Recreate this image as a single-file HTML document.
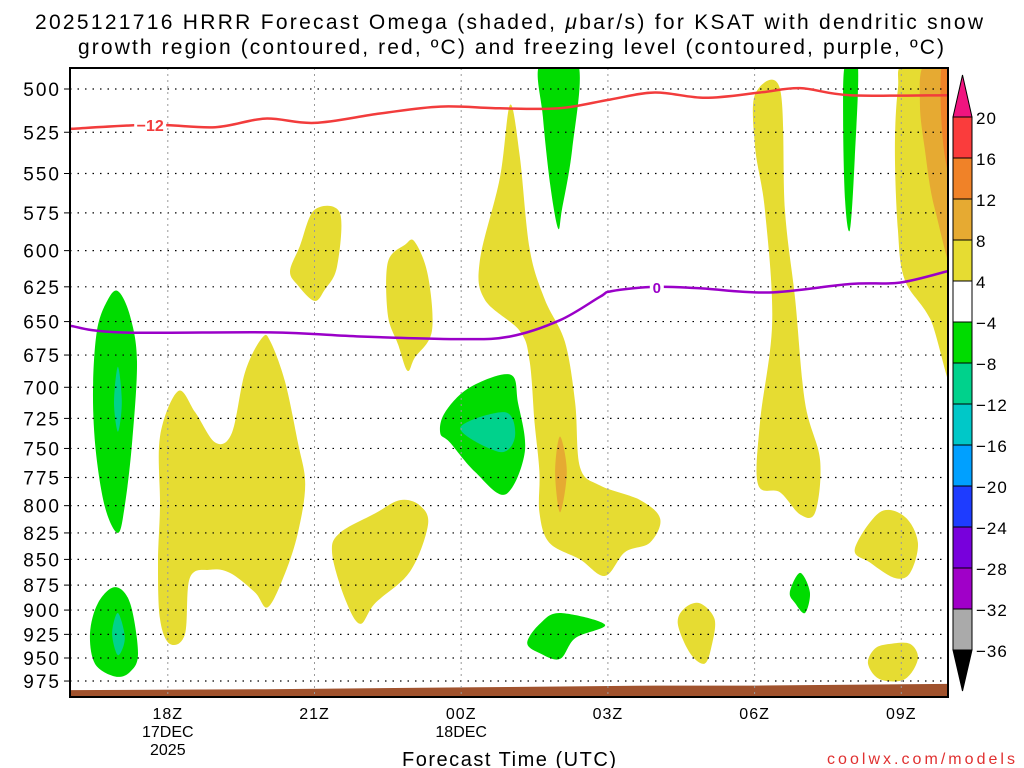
<!DOCTYPE html>
<html><head><meta charset="utf-8"><style>
html,body{margin:0;padding:0;background:#fff;}
svg{display:block;font-family:"Liberation Sans","DejaVu Sans",sans-serif;}
</style></head><body>
<svg id="chart" width="1024" height="768" viewBox="0 0 1024 768" xmlns="http://www.w3.org/2000/svg">
<text x="509" y="29" font-size="21" text-anchor="middle" fill="#000" textLength="948" lengthAdjust="spacing">2025121716 HRRR Forecast Omega (shaded, <tspan font-style="italic">μ</tspan>bar/s) for KSAT with dendritic snow</text>
<text x="511" y="54" font-size="21" text-anchor="middle" fill="#000" textLength="866" lengthAdjust="spacing">growth region (contoured, red, ºC) and freezing level (contoured, purple, ºC)</text>
<g id="plot"></g>
<g id="cbar"></g>
<text x="509" y="766" font-size="20" text-anchor="middle" fill="#000" textLength="214" lengthAdjust="spacing">Forecast Time (UTC)</text>
<text x="1015" y="764" font-size="16" text-anchor="end" fill="#e03030" textLength="188" lengthAdjust="spacing">coolwx.com/models</text>
</svg>
<script>
const pressureTicks=[500,525,550,575,600,625,650,675,700,725,750,775,800,825,850,875,900,925,950,975];
const timeTicks=[18,21,24,27,30,33];
const timeLabels=["18Z","21Z","00Z","03Z","06Z","09Z"];
const redHours=[16,17.64,18.97,19.99,21.0,22.34,23.57,24.79,26.0,27.04,27.96,28.99,30.11,30.93,31.95,33.95];
const redPress=[523,520.6,522,517,519.5,514,510,511,511,506,502,505,502,499.5,503.5,503.5];
const purpleHours=[16,17.02,20.09,21.93,23.98,25.0,26.02,26.84,27.08,27.96,28.88,30.3,31.95,32.97,33.95];
const purplePress=[653,658,658,661,663,661,649,632,628,625,626,629,623,622,614];
const sfcHours=[16,20,24,28,30,34];
const sfcPress=[985,984,982,980,980,978];
const cbLevels=[20,16,12,8,4,-4,-8,-12,-16,-20,-24,-28,-32,-36];
const cbColors=["#fa3c3c","#f08228","#e6aa32","#e6dc32","#ffffff","#00dc00","#00d28c","#00c8c8","#00a0ff","#1e3cff","#7800dc","#a000c8","#aaaaaa"];
const omegaShapes=[
 {c:"#00dc00",n:"green-left",pts:[[16.98,628],[17.23,646],[17.37,680],[17.27,745],[17.12,800],[16.98,825],[16.72,802],[16.53,753],[16.47,703],[16.55,657],[16.76,635]]},
 {c:"#00d28c",n:"teal-left",pts:[[16.98,684],[17.06,712],[16.98,736],[16.90,712]]},
 {c:"#00dc00",n:"green-bottom-left",pts:[[16.92,877],[17.23,893],[17.39,945],[17.23,965],[16.92,970],[16.51,956],[16.41,924],[16.57,893]]},
 {c:"#00d28c",n:"teal-bottom-left",pts:[[16.98,903],[17.12,929],[16.98,947],[16.86,924]]},
 {c:"#e6dc32",n:"yellow-left-big",pts:[[18.21,703],[18.56,720],[18.97,745],[19.31,737],[19.58,688],[19.93,662],[20.1,665],[20.40,696],[20.66,745],[20.81,781],[20.66,825],[20.40,863],[20.05,897],[19.78,882],[19.27,863],[18.86,860],[18.45,868],[18.35,925],[18.04,935],[17.84,909],[17.80,853],[17.84,800],[17.84,740]]},
 {c:"#e6dc32",n:"yellow-21z-small",pts:[[21.0,573],[21.52,575],[21.46,611],[21.21,627],[21.0,635],[20.66,624],[20.5,614],[20.7,597]]},
 {c:"#e6dc32",n:"yellow-23z",pts:[[22.85,596],[23.05,594],[23.32,617],[23.4,657],[23.05,677],[22.9,687],[22.71,667],[22.5,645],[22.5,608]]},
 {c:"#e6dc32",n:"yellow-22z-lower",pts:[[23.16,800],[23.32,818],[22.95,862],[22.24,893],[21.93,914],[21.62,888],[21.36,844],[21.52,825],[22.24,807],[22.75,795]]},
 {c:"#00dc00",n:"green-00z",pts:[[25.0,690],[25.16,712],[25.3,753],[24.9,790],[24.28,770],[23.77,745],[23.57,737],[23.67,720],[24.18,700]]},
 {c:"#00d28c",n:"teal-00z",pts:[[23.98,733],[24.9,720],[25.1,740],[24.79,753]]},
 {c:"#e6dc32",n:"yellow-central",pts:[[25.0,509],[24.79,553],[24.38,607],[24.48,634],[25.2,657],[25.4,680],[25.5,728],[25.6,770],[25.6,806],[25.8,834],[26.43,850],[26.94,866],[27.35,843],[27.86,834],[28.07,812],[27.66,795],[26.84,782],[26.43,766],[26.33,712],[26.12,665],[25.71,634],[25.4,599],[25.2,540]]},
 {c:"#e6aa32",n:"gold-spike",pts:[[26.02,740],[26.16,770],[26.02,806],[25.92,770]]},
 {c:"#00dc00",n:"green-02z-top",pts:[[25.61,486],[26.39,486],[26.27,535],[26.06,573],[25.98,585],[25.82,557],[25.67,516]]},
 {c:"#00dc00",n:"green-02z-bottom",pts:[[26.02,903],[26.94,915],[26.33,929],[26.02,951],[25.61,945],[25.35,934],[25.61,914]]},
 {c:"#e6dc32",n:"yellow-05z",pts:[[28.88,893],[29.18,909],[29.13,935],[28.98,956],[28.68,945],[28.43,914],[28.57,898]]},
 {c:"#e6dc32",n:"yellow-06z-tall",pts:[[30.01,503],[30.52,500],[30.62,573],[30.83,634],[31.03,712],[31.34,760],[31.24,806],[30.93,808],[30.52,788],[30.07,781],[30.11,728],[30.36,650],[30.21,573],[30.01,534]]},
 {c:"#00dc00",n:"green-07z",pts:[[30.93,863],[31.13,882],[31.03,903],[30.83,893],[30.72,882]]},
 {c:"#00dc00",n:"green-08z",pts:[[31.85,486],[32.11,486],[32.05,540],[31.95,586],[31.85,567],[31.81,516]]},
 {c:"#e6dc32",n:"yellow-09z-mid",pts:[[32.56,806],[33.07,810],[33.34,834],[33.18,863],[32.87,868],[32.36,853],[32.05,840]]},
 {c:"#e6dc32",n:"yellow-09z-bottom",pts:[[32.77,935],[33.18,935],[33.34,951],[33.07,973],[32.56,973],[32.32,956],[32.46,940]]},
 {c:"#e6dc32",n:"yellow-right",pts:[[33.07,486],[34.2,486],[34.2,700],[33.59,648],[33.07,620],[32.93,586],[32.87,535],[32.93,500]]},
 {c:"#e6aa32",n:"gold-right",pts:[[33.48,486],[34.2,486],[34.2,620],[33.69,573],[33.48,535],[33.38,508]]},
 {c:"#f08228",n:"orange-right",pts:[[33.83,486],[34.2,486],[34.2,570],[33.87,535]]}
];
const NS="http://www.w3.org/2000/svg";
const L=70,R=948,T=68,B=697;
function X(h){return L+(h-16)*48.9;}
function Y(p){return 89+886.5*Math.log(p/500);}
function mk(tag,attrs,parent){const e=document.createElementNS(NS,tag);for(const k in attrs)e.setAttribute(k,attrs[k]);parent.appendChild(e);return e;}
function smoothClosed(pts){
 const n=pts.length;let d="M"+pts[0][0].toFixed(1)+","+pts[0][1].toFixed(1);
 for(let i=0;i<n;i++){const p0=pts[(i-1+n)%n],p1=pts[i],p2=pts[(i+1)%n],p3=pts[(i+2)%n];
  const c1=[p1[0]+(p2[0]-p0[0])/6,p1[1]+(p2[1]-p0[1])/6],c2=[p2[0]-(p3[0]-p1[0])/6,p2[1]-(p3[1]-p1[1])/6];
  d+="C"+c1[0].toFixed(1)+","+c1[1].toFixed(1)+" "+c2[0].toFixed(1)+","+c2[1].toFixed(1)+" "+p2[0].toFixed(1)+","+p2[1].toFixed(1);}
 return d+"Z";}
function smoothOpen(pts){
 let d="M"+pts[0][0].toFixed(1)+","+pts[0][1].toFixed(1);const n=pts.length;
 for(let i=0;i<n-1;i++){const p0=pts[Math.max(i-1,0)],p1=pts[i],p2=pts[i+1],p3=pts[Math.min(i+2,n-1)];
  const c1=[p1[0]+(p2[0]-p0[0])/6,p1[1]+(p2[1]-p0[1])/6],c2=[p2[0]-(p3[0]-p1[0])/6,p2[1]-(p3[1]-p1[1])/6];
  d+="C"+c1[0].toFixed(1)+","+c1[1].toFixed(1)+" "+c2[0].toFixed(1)+","+c2[1].toFixed(1)+" "+p2[0].toFixed(1)+","+p2[1].toFixed(1);}
 return d;}
const svg=document.getElementById('chart');
const plot=document.getElementById('plot');
const defs=mk('defs',{},svg);
const cp=mk('clipPath',{id:'clip'},defs);
mk('rect',{x:L,y:T,width:R-L,height:B-T},cp);
const inner=mk('g',{'clip-path':'url(#clip)'},plot);
omegaShapes.forEach(s=>{
 const el=mk('path',{d:smoothClosed(s.pts.map(p=>[X(p[0]),Y(p[1])])),fill:s.c},inner);
 
 
});
{const pts=sfcHours.map((h,i)=>[X(h),Y(sfcPress[i])]);
 let d="M"+pts.map(p=>p[0].toFixed(1)+","+p[1].toFixed(1)).join("L")+"L"+X(34)+","+(B+5)+"L"+X(16)+","+(B+5)+"Z";
 const el=mk('path',{d:d,fill:'#a0522d'},inner);
 
 }
pressureTicks.forEach(p=>{
 const el=mk('line',{x1:L,x2:R,y1:Y(p),y2:Y(p),stroke:'#000','stroke-width':1.2,'stroke-dasharray':'1.5,6'},inner);
 
 
 const tk=mk('line',{x1:L-6,x2:L,y1:Y(p),y2:Y(p),stroke:'#000','stroke-width':1},plot);
 
 
 const t=mk('text',{x:L-9,y:Y(p)+7,'font-size':19,'text-anchor':'end',fill:'#000','letter-spacing':2},plot);
 t.textContent=p;
 
 
});
timeTicks.forEach((h,i)=>{
 const el=mk('line',{x1:X(h),x2:X(h),y1:T,y2:B,stroke:'#999','stroke-width':1,'stroke-dasharray':'2,4'},inner);
 
 
 const t=mk('text',{x:X(h),y:719,'font-size':16,'text-anchor':'middle',fill:'#000','letter-spacing':1},plot);
 t.textContent=timeLabels[i];
 
 
});
{const t1=mk('text',{x:X(18),y:737,'font-size':16,'text-anchor':'middle',fill:'#000'},plot);t1.textContent="17DEC";
 
 
 const t2=mk('text',{x:X(18),y:755,'font-size':16,'text-anchor':'middle',fill:'#000'},plot);t2.textContent="2025";
 
 
 const t3=mk('text',{x:X(24),y:737,'font-size':16,'text-anchor':'middle',fill:'#000'},plot);t3.textContent="18DEC";
 
 }
{const el=mk('path',{d:smoothOpen(redHours.map((h,i)=>[X(h),Y(redPress[i])])),fill:'none',stroke:'#f23c3c','stroke-width':2.5},inner);
 
 
 const bg=mk('rect',{x:X(17.64)-16,y:Y(520.6)-9,width:32,height:18,fill:'#fff'},inner);
 
 
 const t=mk('text',{x:X(17.64),y:Y(520.6)+6,'font-size':16,'font-weight':'bold','text-anchor':'middle',fill:'#f23c3c'},inner);t.textContent="−12";
 
 }
{const el=mk('path',{d:smoothOpen(purpleHours.map((h,i)=>[X(h),Y(purplePress[i])])),fill:'none',stroke:'#9a00c8','stroke-width':2.5},inner);
 
 
 const bg=mk('rect',{x:X(28.0)-7,y:Y(625)-9,width:14,height:18,fill:'#fff'},inner);
 
 
 const t=mk('text',{x:X(28.0),y:Y(625)+6,'font-size':15,'font-weight':'bold','text-anchor':'middle',fill:'#9a00c8'},inner);t.textContent="0";
 
 }
{const fr=mk('rect',{x:L,y:T,width:R-L,height:B-T,fill:'none',stroke:'#000','stroke-width':2},plot);
 
 }
const cb=document.getElementById('cbar');
const cx0=953,cx1=972,cTop=117,cStep=(650-117)/13;
cbColors.forEach((c,i)=>{
 const el=mk('rect',{x:cx0,y:cTop+i*cStep,width:cx1-cx0,height:cStep,fill:c,stroke:'#000','stroke-width':1},cb);
 
 
});
{const a=mk('polygon',{points:`${cx0},${cTop} ${cx1},${cTop} ${(cx0+cx1)/2},75`,fill:'#f0147f',stroke:'#000','stroke-width':1},cb);
 
 
 const b=mk('polygon',{points:`${cx0},650 ${cx1},650 ${(cx0+cx1)/2},691`,fill:'#000',stroke:'#000','stroke-width':1},cb);
 
 }
cbLevels.forEach((v,i)=>{
 const t=mk('text',{x:976,y:cTop+i*cStep+7,'font-size':17,fill:'#000','letter-spacing':1},cb);
 t.textContent=v<0?"−"+(-v):String(v);
 
 
});
</script>
</body></html>
